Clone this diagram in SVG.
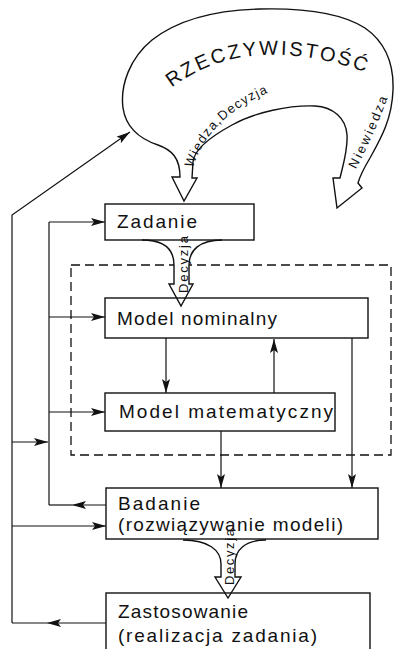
<svg xmlns="http://www.w3.org/2000/svg" width="394" height="649" viewBox="0 0 394 649">
<style>
.box{fill:none;stroke:#111;stroke-width:1.4}
.ln{fill:none;stroke:#111;stroke-width:1.2}
.big{fill:#fff;stroke:#111;stroke-width:1.4;stroke-linejoin:miter}
.t{font-family:"Liberation Sans",Arial,sans-serif;font-size:19px;fill:#111}
.s{font-family:"Liberation Sans",Arial,sans-serif;font-size:13px;fill:#111}
.r{font-family:"Liberation Sans",Arial,sans-serif;font-size:20px;fill:#111}
.dash{fill:none;stroke:#111;stroke-width:1.3;stroke-dasharray:9 5}
</style>
<defs>
<marker id="a" markerUnits="userSpaceOnUse" markerWidth="16" markerHeight="10" refX="14" refY="4" orient="auto">
<path d="M0,0 L14,4 L0,8 L3,4 Z" fill="#111"/>
</marker>
<path id="pR" d="M170,89 Q245,31 362,71"/>
<path id="pW" d="M192,170 Q210,113 278,89"/>
<path id="pN" d="M355,171 Q372,140 390,92"/>
</defs>
<rect width="394" height="649" fill="#fff"/>

<g id="rzeczywistosc">
<path class="big" d="M180,177 C180,158 172,150 158,145 C140,139 126,128 123,108 C120,85 130,58 152,40 C180,18 220,10 260,9 C300,8 340,12 365,28 C385,42 394,62 393,90 C392,120 380,140 370,158 C364,168 360,176 358,183 L362,188 L337,208 L333,178 L340,178 C343,165 348,150 347,135 C346,118 333,107 315,106 C290,105 255,112 232,125 C210,137 194,150 193,162 L192,178 L197,178 L184,201 L172,177 Z"/>
<text class="r"><textPath href="#pR" startOffset="2" textLength="203">RZECZYWISTOŚĆ</textPath></text>
<text class="s"><textPath href="#pW" startOffset="2" textLength="110">Wiedza,Decyzja</textPath></text>
<text class="s"><textPath href="#pN" startOffset="2" textLength="78">Niewiedza</textPath></text>
</g>

<rect class="dash" x="71" y="265" width="320" height="190"/>

<g id="connectors">
<path class="ln" d="M12,623 L12,215 L130,132" marker-end="url(#a)"/>
<path class="ln" d="M49,222 L49,505"/>
<path class="ln" d="M49,222 L105,222" marker-end="url(#a)"/>
<path class="ln" d="M49,317 L105,317" marker-end="url(#a)"/>
<path class="ln" d="M49,412 L105,412" marker-end="url(#a)"/>
<path class="ln" d="M12,442 L48,442" marker-end="url(#a)"/>
<path class="ln" d="M106,505 L72,505" marker-end="url(#a)"/>
<path class="ln" d="M72,505 L49,505"/>
<path class="ln" d="M12,526 L106,526" marker-end="url(#a)"/>
<path class="ln" d="M106,623 L47,623" marker-end="url(#a)"/>
<path class="ln" d="M47,623 L12,623"/>
<path class="ln" d="M166,338 L166,393" marker-end="url(#a)"/>
<path class="ln" d="M274,393 L274,339" marker-end="url(#a)"/>
<path class="ln" d="M221,431 L221,488" marker-end="url(#a)"/>
<path class="ln" d="M352,338 L352,488" marker-end="url(#a)"/>
<path class="big" d="M142,240 C165,240 174,250 174,265 L174,284 L169,284 L181,306 L193,284 L189,284 L189,265 C189,250 200,240 222,240"/>
<text class="s" transform="translate(188,293) rotate(-90)" textLength="57">Decyzja</text>
<path class="big" d="M183,540 C208,540 221,550 221,564 L221,577 L215,577 L228,598 L241,577 L235,577 L235,564 C235,550 245,540 266,540"/>
<text class="s" transform="translate(234,585) rotate(-90)" textLength="56">Decyzja</text>
</g>

<g id="zadanie">
<rect class="box" x="105" y="204" width="149" height="36"/>
<text class="t" x="117" y="228" textLength="80">Zadanie</text>
</g>
<g id="model-nominalny">
<rect class="box" x="105" y="298" width="263" height="40"/>
<text class="t" x="117" y="325" textLength="160">Model nominalny</text>
</g>
<g id="model-matematyczny">
<rect class="box" x="105" y="393" width="230" height="38"/>
<text class="t" x="119" y="418" textLength="214">Model matematyczny</text>
</g>
<g id="badanie">
<rect class="box" x="106" y="488" width="272" height="51"/>
<text class="t" x="118" y="510" textLength="82">Badanie</text>
<text class="t" x="118" y="531" textLength="225">(rozwiązywanie modeli)</text>
</g>
<g id="zastosowanie">
<rect class="box" x="106" y="593" width="264" height="70"/>
<text class="t" x="118" y="618" textLength="130">Zastosowanie</text>
<text class="t" x="118" y="642" textLength="199">(realizacja zadania)</text>
</g>
</svg>
